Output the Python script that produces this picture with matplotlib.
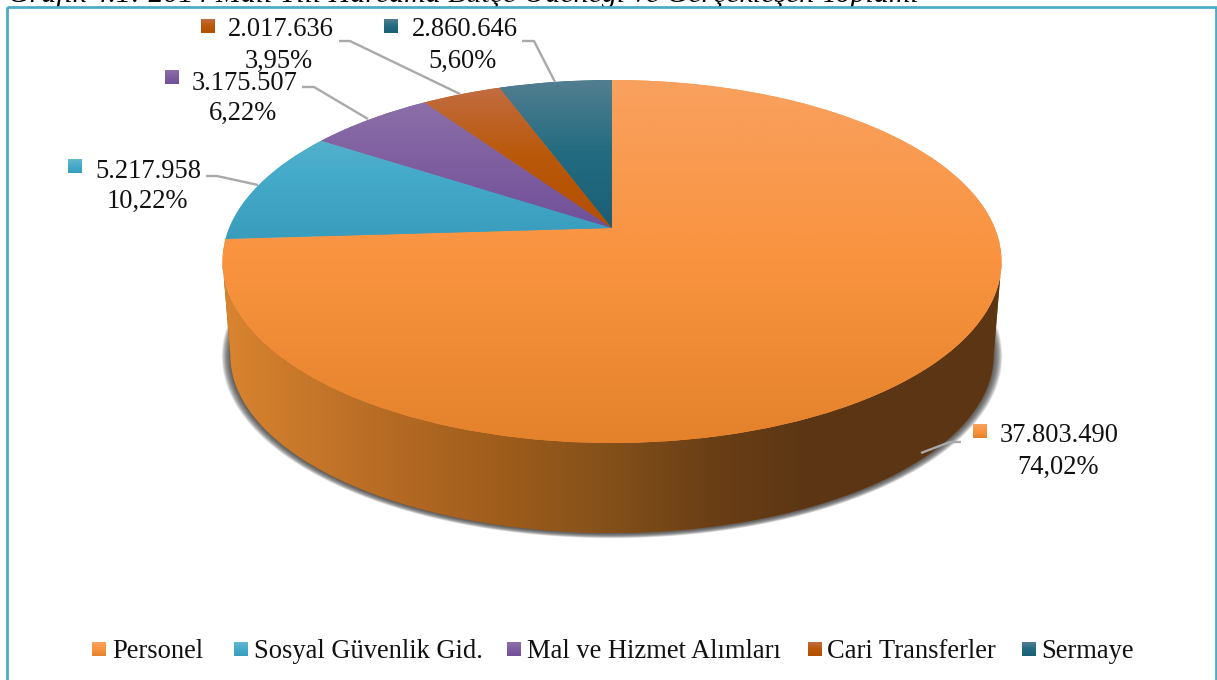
import numpy as np
import matplotlib
matplotlib.use('Agg')
import matplotlib.pyplot as plt
from matplotlib.patches import Polygon, Rectangle
from matplotlib.transforms import Transform
from matplotlib.colors import to_rgb

categories = ['Personel', 'Sosyal Güvenlik Gid.', 'Mal ve Hizmet Alımları', 'Cari Transferler', 'Sermaye']
amounts = [37803490, 5217958, 3175507, 2017636, 2860646]
amount_labels = ['37.803.490', '5.217.958', '3.175.507', '2.017.636', '2.860.646']
percent_labels = ['74,02%', '10,22%', '6,22%', '3,95%', '5,60%']
title_text = 'Grafik 4.1: 2014 Mali Yılı Harcama Bütçe Ödeneği ve Gerçekleşen Toplamı'

# top and bottom colour of every slice
grad_top = ['#F9A15F', '#66B6CE', '#8C70A9', '#C26C40', '#527E90']
grad_mid = ['#F9933F', '#45ABCA', '#7F5EA0', '#B95808', '#226B80']
grad_low = ['#E4822B', '#399CBD', '#70509A', '#B25000', '#1B5F75']

# pixel places of the labels: marker x,y / number x,y / percent x,y
marker_pos = [(980, 431), (75, 166), (172, 77), (208, 26), (391, 26)]
number_pos = [(1059, 435), (148, 171), (245, 83), (281, 30), (465, 30)]
percent_pos = [(1058, 467), (147, 201), (243, 113), (279, 61), (462, 61)]
leaders = [
    [(961, 442), (950, 442), (921, 453)],
    [(206, 176), (217, 176), (258, 185)],
    [(302, 87), (314, 87), (368, 119)],
    [(339, 41), (350, 41), (460, 94)],
    [(522, 41), (534, 41), (555, 82)],
]
legend_marker_x = [99, 241, 514, 815, 1029]
legend_text_x = [112, 254, 527, 827, 1041]

plt.rcParams['font.family'] = ['Liberation Serif', 'DejaVu Serif']


class Tilt(Transform):
    # unit disc of ax.pie -> pixels, a plain perspective view
    input_dims = 2
    output_dims = 2

    def __init__(self, cx=612, cy=228, ax_=382.8, by=175.3, p=0.1846, k=1.0, dy=0):
        super().__init__()
        self.v = (cx, cy, ax_, by, p, k, dy)

    def transform_non_affine(self, xy):
        cx, cy, a, b, p, k, dy = self.v
        xy = np.asarray(xy, dtype=float)
        d = 1 + p * xy[:, 1]
        return np.column_stack((cx + k * a * xy[:, 0] / d, cy + dy - k * b * xy[:, 1] / d))


def stops_image(stops, n=256):
    pos = np.linspace(0, 1, n)
    xs = np.linspace(0, 1, len(stops))
    rgb = np.array([to_rgb(c) for c in stops])
    return np.stack([np.interp(pos, xs, rgb[:, i]) for i in range(3)], axis=1)


def grad_fill(ax, stops, box, clip, horizontal=False, z=3):
    img = stops_image(stops)
    img = img[np.newaxis, :, :] if horizontal else img[:, np.newaxis, :]
    x0, x1, y0, y1 = box
    im = ax.imshow(img, extent=(x0, x1, y1, y0), aspect='auto', interpolation='bilinear', zorder=z)
    if clip is not None:
        im.set_clip_path(clip)
    return im


fig = plt.figure(figsize=(12.17, 6.80), dpi=100)
fig.patch.set_facecolor('white')
ax = fig.add_axes([0, 0, 1, 1])

top = Tilt()
bottom = Tilt(k=0.98, dy=94.3)

# soft shadow under the cake
t = np.linspace(0, 2 * np.pi, 400)
circle = np.column_stack((np.sin(t), np.cos(t)))
for grow in range(20, -1, -1):
    pts = Tilt(k=0.98 + grow * 0.0011, dy=94.3 + 0.5).transform(circle)
    ax.add_patch(Polygon(pts, closed=True, fc='#404040', ec='none', alpha=0.075, zorder=1))

# side wall
front = np.arctan2(np.sqrt(1 - 0.1846 ** 2), -0.1846)
t = np.linspace(front, 2 * np.pi - front, 300)
arc = np.column_stack((np.sin(t), np.cos(t)))
wall_pts = np.vstack((top.transform(arc), bottom.transform(arc)[::-1]))
wall = Polygon(wall_pts, closed=True, fc='#8A5018', ec='none', zorder=2)
ax.add_patch(wall)
grad_fill(ax, ['#D9842F', '#C47529', '#B06722', '#9C5B1B', '#83501A', '#6B3F16', '#5C3614', '#5C3614', '#5C3614'],
          (222, 1001, 250, 540), wall, horizontal=True, z=2)

# top face
wedges, _ = ax.pie(amounts, startangle=90, counterclock=False, radius=1, colors=grad_mid,
                   wedgeprops={'linewidth': 0, 'zorder': 3})
spans = [(80, 443), (105, 240), (100, 228), (88, 228), (80, 228)]
for i, w in enumerate(wedges):
    w.set_transform(top + ax.transData)
    y0, y1 = spans[i]
    grad_fill(ax, [grad_top[i], grad_mid[i], grad_low[i]], (215, 1005, y0, y1), w, z=3)

# labels
for i in range(len(categories)):
    mx, my = marker_pos[i]
    box = Rectangle((mx - 7, my - 7), 14, 14, fc='none', ec='none', zorder=5)
    ax.add_patch(box)
    grad_fill(ax, [grad_top[i], grad_mid[i], grad_low[i]], (mx - 7, mx + 7, my - 7, my + 7), box, z=5)
    ax.text(*number_pos[i], amount_labels[i], fontsize=19.1, ha='center', va='center', color='#111111', zorder=6)
    ax.text(*percent_pos[i], percent_labels[i], fontsize=19.1, ha='center', va='center', color='#111111', zorder=6)
    xs, ys = zip(*leaders[i])
    ax.plot(xs, ys, color='#A9A9A9', lw=1.7, zorder=4, solid_capstyle='butt')

# legend row
for i, name in enumerate(categories):
    lx = legend_marker_x[i]
    box = Rectangle((lx - 7, 642), 14, 14, fc='none', ec='none', zorder=5)
    ax.add_patch(box)
    grad_fill(ax, [grad_top[i], grad_mid[i], grad_low[i]], (lx - 7, lx + 7, 642, 656), box, z=5)
    ax.text(legend_text_x[i], 651, name, fontsize=19.1, ha='left', va='center', color='#111111', zorder=6)

# frame and the cut off caption above it
ax.add_patch(Rectangle((6.5, 7), 1209, 690, fc='none', ec='#4BACC6', lw=2, zorder=7))
ax.text(8, 1.5, title_text, fontsize=21.5, style='italic', ha='left', va='baseline', color='black', zorder=6)

ax.set_xlim(0, 1217)
ax.set_ylim(680, 0)
ax.set_aspect('auto')
ax.axis('off')
fig.savefig('out.png', dpi=100)
